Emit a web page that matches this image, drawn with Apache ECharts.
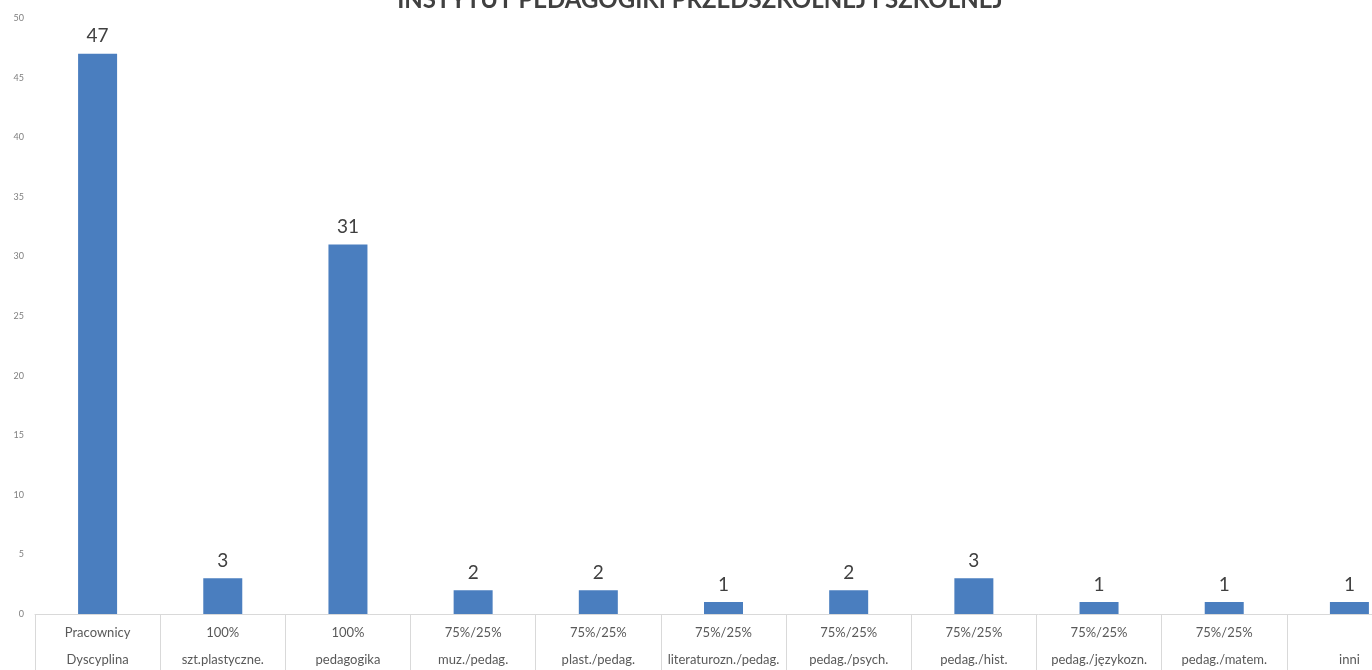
<!DOCTYPE html>
<html>
<head>
<meta charset="utf-8">
<script src="https://cdn.jsdelivr.net/npm/echarts@6/dist/echarts.min.js"></script>
<style>
html,body{margin:0;padding:0;background:#fff;}
#chart{width:1372px;height:670px;}
</style>
</head>
<body>
<div id="chart"></div>
<script>
const titleText = 'INSTYTUT PEDAGOGIKI PRZEDSZKOLNEJ I SZKOLNEJ';
const categories = [
  'Pracownicy\nDyscyplina',
  '100%\nszt.plastyczne.',
  '100%\npedagogika',
  '75%/25%\nmuz./pedag.',
  '75%/25%\nplast./pedag.',
  '75%/25%\nliteraturozn./pedag.',
  '75%/25%\npedag./psych.',
  '75%/25%\npedag./hist.',
  '75%/25%\npedag./językozn.',
  '75%/25%\npedag./matem.',
  'inni'
];
const values = [47, 3, 31, 2, 2, 1, 2, 3, 1, 1, 1];
const yMin = 0, yMax = 50, yStep = 5;

const chart = echarts.init(document.getElementById('chart'));
chart.setOption({
  animation: false,
  title: {
    text: titleText,
    left: 695,
    textAlign: 'center',
    top: -17,
    textStyle: {fontFamily: 'Lato', fontWeight: 'bold', fontSize: 24, color: '#404040'}
  },
  grid: {left: 35, right: -40, top: 18, bottom: 56, containLabel: false, outerBoundsMode: 'none'},
  xAxis: {
    type: 'category',
    data: categories,
    axisLine: {lineStyle: {color: '#d9d9d9', width: 1}},
    axisTick: {show: true, length: 60, lineStyle: {color: '#d9d9d9'}},
    axisLabel: {
      interval: 0,
      margin: 5,
      fontFamily: 'Lato',
      fontSize: 13,
      lineHeight: 27,
      color: '#595959',
      formatter: v => v.indexOf('\n') < 0 ? '\n' + v : v
    }
  },
  yAxis: {
    type: 'value',
    min: yMin, max: yMax, interval: yStep,
    splitLine: {show: false},
    axisLine: {show: false},
    axisTick: {show: false},
    axisLabel: {fontFamily: 'Lato', fontSize: 9, color: '#7f7f7f', margin: 11}
  },
  series: [{
    type: 'bar',
    data: values,
    barWidth: 39,
    itemStyle: {color: '#4a7ebf'},
    label: {
      show: true,
      position: 'top',
      distance: 8,
      fontFamily: 'Lato',
      fontSize: 19,
      color: '#404040'
    }
  }]
});
</script>
</body>
</html>
